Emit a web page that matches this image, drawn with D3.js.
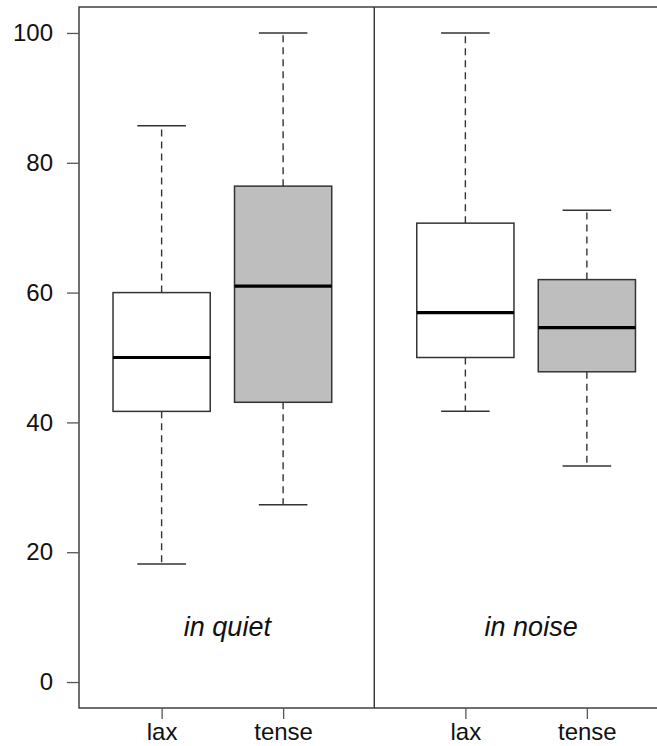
<!DOCTYPE html>
<html>
<head>
<meta charset="utf-8">
<script src="https://cdn.jsdelivr.net/npm/d3@7"></script>
<style>
    body { margin: 0; background: #fff; }
    svg { display: block; font-family: "Liberation Sans", Arial, sans-serif; }
</style>
</head>
<body>
<div id="chart"></div>
<script>
// group labels, box categories, positions on the x axis
var categories = ["lax", "tense", "lax", "tense"];
var positions = [1, 2, 3.5, 4.5];
var conditions = ["in quiet", "in noise"];
var conditionPos = [1.5, 4];
var fills = ["#ffffff", "#bebebe", "#ffffff", "#bebebe"];

// five number summaries
var whiskLow = [18.2, 27.3, 41.7, 33.3];
var q1 = [41.7, 43.1, 50.0, 47.8];
var median = [50.0, 61.0, 56.9, 54.6];
var q3 = [60.0, 76.4, 70.7, 62.0];
var whiskHigh = [85.7, 100, 100, 72.7];

var yTicks = [0, 20, 40, 60, 80, 100];
var divider = 2.75;

var totalWidth = 657,
    totalHeight = 746,
    mTop = 7,
    mLeft = 79,
    mBottom = 38;

var plotBottom = totalHeight - mBottom;
var unit = 121.5;

var xScale = d3.scaleLinear()
    .domain([0.32, 5.18])
    .range([mLeft, mLeft + 4.86 * unit]);

var yScale = d3.scaleLinear()
    .domain([-4, 104])
    .range([plotBottom, mTop]);

var svg = d3.select("#chart").append("svg")
    .attr("width", totalWidth)
    .attr("height", totalHeight);

var boxes = positions.map(function(p, i) {
    return {
        pos: p,
        lo: whiskLow[i],
        q1: q1[i],
        med: median[i],
        q3: q3[i],
        hi: whiskHigh[i],
        fill: fills[i]
    };
});

var boxW = xScale(0.8) - xScale(0);
var capW = boxW / 2;
var lineCol = "#333";

var g = svg.append("g");

// whiskers (dashed)
g.selectAll("line.whiskUp").data(boxes).enter().append("line")
    .attr("x1", function(d) { return xScale(d.pos); })
    .attr("x2", function(d) { return xScale(d.pos); })
    .attr("y1", function(d) { return yScale(d.q3); })
    .attr("y2", function(d) { return yScale(d.hi); })
    .attr("stroke", lineCol)
    .attr("stroke-width", 1.4)
    .attr("stroke-dasharray", "7,5");

g.selectAll("line.whiskDown").data(boxes).enter().append("line")
    .attr("x1", function(d) { return xScale(d.pos); })
    .attr("x2", function(d) { return xScale(d.pos); })
    .attr("y1", function(d) { return yScale(d.q1); })
    .attr("y2", function(d) { return yScale(d.lo); })
    .attr("stroke", lineCol)
    .attr("stroke-width", 1.4)
    .attr("stroke-dasharray", "7,5");

// caps
["hi", "lo"].forEach(function(k) {
    g.selectAll("line.cap" + k).data(boxes).enter().append("line")
        .attr("x1", function(d) { return xScale(d.pos) - capW / 2; })
        .attr("x2", function(d) { return xScale(d.pos) + capW / 2; })
        .attr("y1", function(d) { return yScale(d[k]); })
        .attr("y2", function(d) { return yScale(d[k]); })
        .attr("stroke", lineCol)
        .attr("stroke-width", 1.5);
});

// boxes
g.selectAll("rect.box").data(boxes).enter().append("rect")
    .attr("x", function(d) { return xScale(d.pos) - boxW / 2; })
    .attr("width", boxW)
    .attr("y", function(d) { return yScale(d.q3); })
    .attr("height", function(d) { return yScale(d.q1) - yScale(d.q3); })
    .attr("fill", function(d) { return d.fill; })
    .attr("stroke", lineCol)
    .attr("stroke-width", 1.5);

// medians
g.selectAll("line.med").data(boxes).enter().append("line")
    .attr("x1", function(d) { return xScale(d.pos) - boxW / 2; })
    .attr("x2", function(d) { return xScale(d.pos) + boxW / 2; })
    .attr("y1", function(d) { return yScale(d.med); })
    .attr("y2", function(d) { return yScale(d.med); })
    .attr("stroke", "#000")
    .attr("stroke-width", 3.2);

// divider between conditions
svg.append("line")
    .attr("x1", xScale(divider))
    .attr("x2", xScale(divider))
    .attr("y1", mTop)
    .attr("y2", plotBottom)
    .attr("stroke", "#222")
    .attr("stroke-width", 1.3);

// condition labels
svg.selectAll("text.cond").data(conditions).enter().append("text")
    .attr("x", function(d, i) { return xScale(conditionPos[i]) + 5; })
    .attr("y", 636)
    .attr("text-anchor", "middle")
    .attr("font-style", "italic")
    .attr("font-size", 27)
    .attr("fill", "#111")
    .text(function(d) { return d; });

// frame (right side falls outside the window)
svg.append("rect")
    .attr("x", mLeft)
    .attr("y", mTop)
    .attr("width", xScale.range()[1] - mLeft)
    .attr("height", plotBottom - mTop)
    .attr("fill", "none")
    .attr("stroke", "#333")
    .attr("stroke-width", 1.4);

// y axis
var yAxis = d3.axisLeft(yScale)
    .tickValues(yTicks)
    .tickSize(12)
    .tickPadding(14);

var yG = svg.append("g")
    .attr("transform", "translate(" + mLeft + ",0)")
    .call(yAxis);
yG.select(".domain").remove();
yG.selectAll(".tick line").attr("stroke", "#555").attr("stroke-width", 1.3);
yG.selectAll(".tick text")
    .attr("font-size", 24)
    .attr("font-family", "Liberation Sans, Arial, sans-serif")
    .attr("fill", "#111");

// x axis
var xAxis = d3.axisBottom(xScale)
    .tickValues(positions)
    .tickFormat(function(d, i) { return categories[i]; })
    .tickSize(11)
    .tickPadding(4);

var xG = svg.append("g")
    .attr("transform", "translate(0," + plotBottom + ")")
    .call(xAxis);
xG.select(".domain").remove();
xG.selectAll(".tick line").attr("stroke", "#555").attr("stroke-width", 1.3);
xG.selectAll(".tick text")
    .attr("font-size", 24)
    .attr("font-family", "Liberation Sans, Arial, sans-serif")
    .attr("fill", "#111");
</script>
</body>
</html>
